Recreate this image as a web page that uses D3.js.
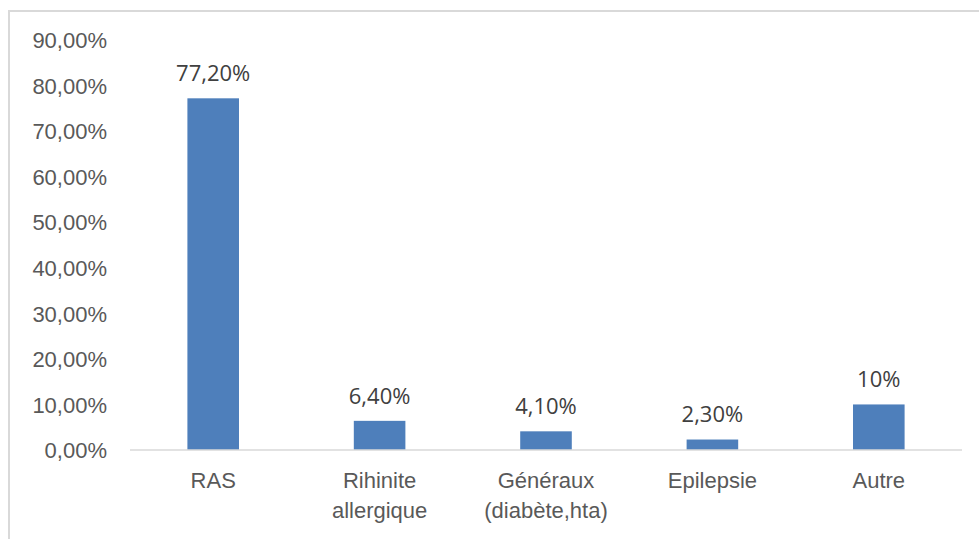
<!DOCTYPE html>
<html>
<head>
<meta charset="utf-8">
<script src="https://cdn.jsdelivr.net/npm/d3@7/dist/d3.min.js"></script>
<style>
  html, body { margin: 0; padding: 0; background: #ffffff; }
  svg { display: block; font-family: "Open Sans", "Noto Sans", sans-serif; }
</style>
</head>
<body>
<svg id="chart" width="979" height="539"></svg>
<script>
// Antécédents médicaux — share of patients per category
const categories = [["RAS"], ["Rihinite", "allergique"], ["Généraux", "(diabète,hta)"], ["Epilepsie"], ["Autre"]];
const values = [77.20, 6.40, 4.10, 2.30, 10];
const valueLabels = ["77,20%", "6,40%", "4,10%", "2,30%", "10%"];
const yTicks = [0, 10, 20, 30, 40, 50, 60, 70, 80, 90];
const yTickLabels = ["0,00%", "10,00%", "20,00%", "30,00%", "40,00%", "50,00%", "60,00%", "70,00%", "80,00%", "90,00%"];

const svg = d3.select("#chart");
const W = 979, H = 539;
const plot = { left: 130, right: 962, top: 40, bottom: 450 };
const fontSize = "22px";

// chart frame
svg.append("rect")
  .attr("x", 9).attr("y", 11)
  .attr("width", W + 20).attr("height", H + 20)
  .attr("fill", "#ffffff")
  .attr("stroke", "#d9d9d9").attr("stroke-width", 2);

const keys = categories.map((c, i) => i);
const x = d3.scaleBand().domain(keys).range([plot.left, plot.right]).paddingInner(0.69).paddingOuter(0.345);
const y = d3.scaleLinear().domain([0, 90]).range([plot.bottom, plot.top]);

// y axis labels (no line, no ticks)
const yAxis = d3.axisLeft(y).tickValues(yTicks).tickFormat((d, i) => yTickLabels[i]).tickSize(0).tickPadding(0);
const gy = svg.append("g").attr("transform", "translate(107,0)").call(yAxis);
gy.select(".domain").remove();
gy.selectAll("text")
  .attr("fill", "#595959")
  .style("font-size", fontSize)
  .attr("dy", "0.35em");

// bars
svg.append("g").selectAll("rect")
  .data(values)
  .join("rect")
  .attr("x", (d, i) => x(i))
  .attr("y", d => y(d))
  .attr("width", x.bandwidth())
  .attr("height", d => y(0) - y(d))
  .attr("fill", "#4e7fbb");

// baseline
svg.append("line")
  .attr("x1", plot.left).attr("x2", plot.right)
  .attr("y1", y(0)).attr("y2", y(0))
  .attr("stroke", "#d9d9d9").attr("stroke-width", 1.5);

// value labels
svg.append("g").selectAll("text")
  .data(values)
  .join("text")
  .attr("x", (d, i) => x(i) + x.bandwidth() / 2)
  .attr("y", d => y(d) - 25)
  .attr("text-anchor", "middle")
  .attr("dy", "0.35em")
  .attr("fill", "#404040")
  .style("font-size", fontSize)
  .text((d, i) => valueLabels[i]);

// category labels
const xAxis = d3.axisBottom(x).tickSize(0).tickPadding(0).tickFormat("");
const gx = svg.append("g").attr("transform", `translate(0,${plot.bottom})`).call(xAxis);
gx.select(".domain").remove();
gx.selectAll(".tick").each(function(d) {
  const t = d3.select(this).append("text")
    .attr("text-anchor", "middle")
    .attr("fill", "#595959")
    .style("font-size", fontSize);
  categories[d].forEach((line, j) => {
    t.append("tspan").attr("x", 0).attr("y", 30 + j * 30).attr("dy", "0.35em").text(line);
  });
});
</script>
</body>
</html>
